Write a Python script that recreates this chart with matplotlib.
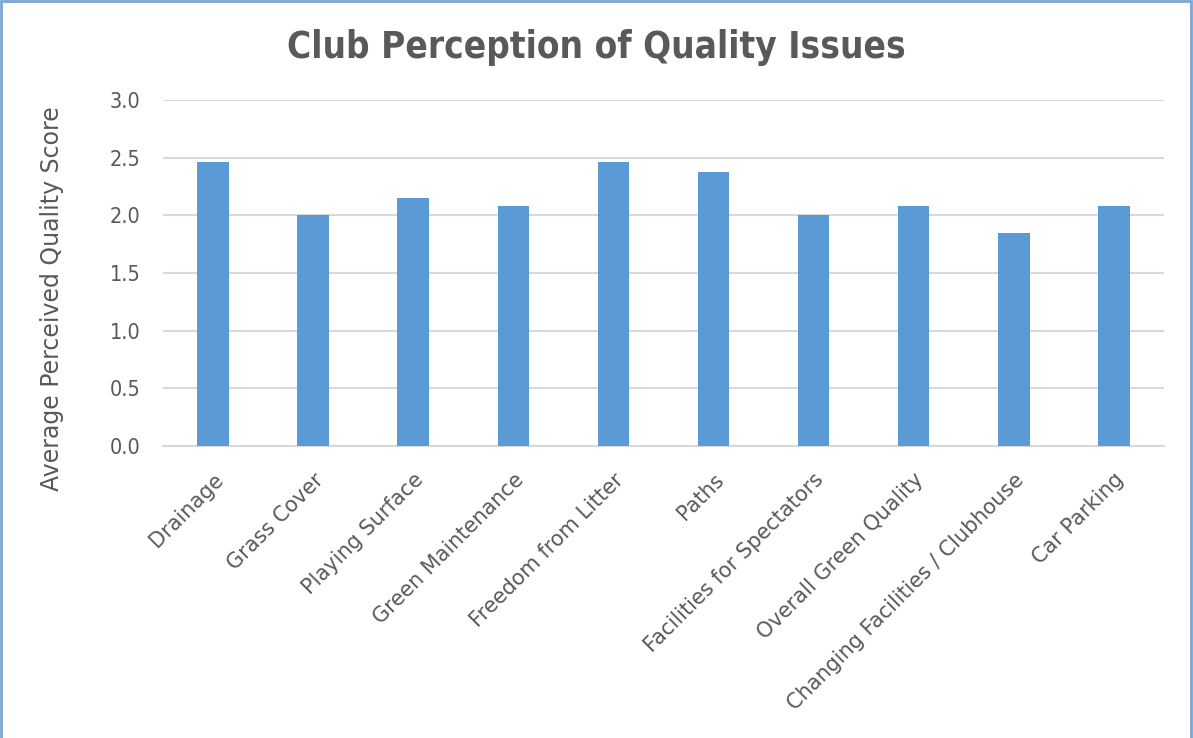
import matplotlib.pyplot as plt
import matplotlib.patches as mpatches
import numpy as np

categories = ['Drainage', 'Grass Cover', 'Playing Surface', 'Green Maintenance',
              'Freedom from Litter', 'Paths', 'Facilities for Spectators',
              'Overall Green Quality', 'Changing Facilities / Clubhouse', 'Car Parking']
scores = [2.46, 2.00, 2.15, 2.08, 2.46, 2.38, 2.00, 2.08, 1.85, 2.08]
y_ticks = [0.0, 0.5, 1.0, 1.5, 2.0, 2.5, 3.0]

txt = '#595959'
fig = plt.figure(figsize=(11.93, 7.38), dpi=100)
ax = fig.add_axes([0.1366, 0.3957, 0.839, 0.4688])

x = np.arange(len(categories))
ax.bar(x, scores, width=0.315, color='#5B9BD5', zorder=3)

ax.set_xlim(-0.5, len(categories) - 0.5)
ax.set_ylim(0, 3.0)
ax.set_yticks(y_ticks)
ax.set_yticklabels(['%.1f' % v for v in y_ticks], fontsize=15.5, color=txt,
                   fontstretch='condensed')
ax.set_xticks(x)
ax.set_xticklabels(categories, rotation=45, ha='right', rotation_mode='anchor',
                   fontsize=15, color=txt)
ax.tick_params(axis='both', length=0)
ax.tick_params(axis='y', pad=16)
ax.tick_params(axis='x', pad=17)

ax.grid(axis='y', color='#d9d9d9', linewidth=1.5, zorder=0)
for s in ['top', 'right', 'left']:
    ax.spines[s].set_visible(False)
ax.spines['bottom'].set_color('#d9d9d9')
ax.spines['bottom'].set_linewidth(1.5)

fig.text(0.044, 0.596, 'Average Perceived Quality Score', rotation=90,
         ha='center', va='center', fontsize=17, color=txt)
fig.text(0.5, 0.936, 'Club Perception of Quality Issues', ha='center', va='center',
         fontsize=26.5, fontweight='bold', fontstretch='condensed', color=txt)

fig.patches.append(mpatches.Rectangle((0.001, -0.01), 0.997, 1.008, transform=fig.transFigure,
                                      fill=False, edgecolor='#7aa6d6', linewidth=2))

plt.savefig('out.png', dpi=100)
